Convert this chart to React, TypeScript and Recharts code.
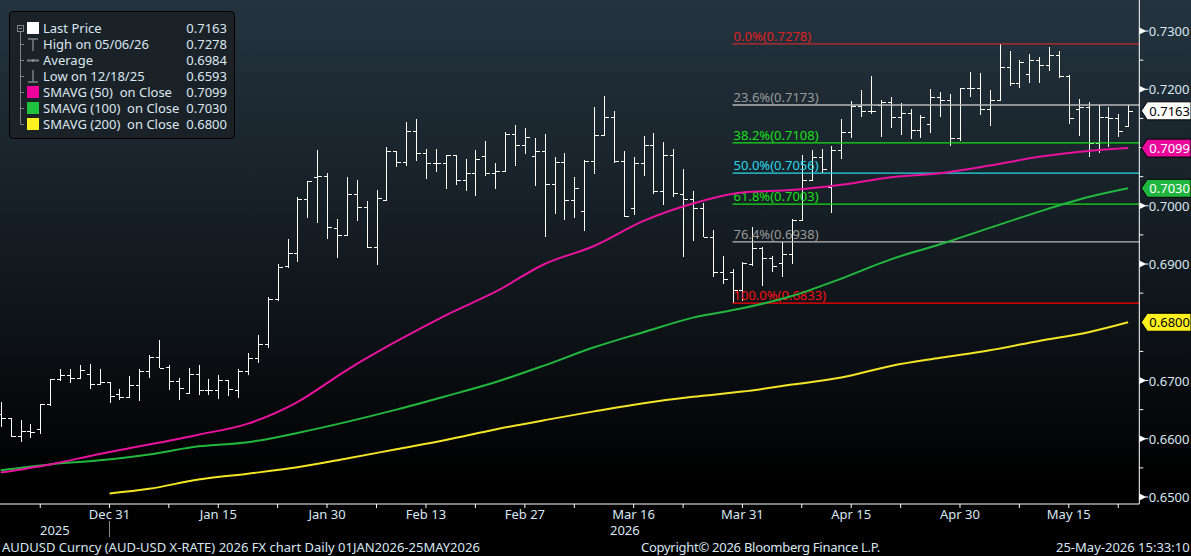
import { ComposedChart, Bar, Line, XAxis, YAxis, ReferenceLine } from 'recharts'

const FONT = '"Noto Sans", sans-serif'
const TEXT = '#d9e7f2'

const highs = [
  0.6663, 0.6636, 0.6633, 0.6626, 0.6659, 0.6703, 0.6719, 0.672, 0.6726, 0.6729,
  0.6719, 0.6697, 0.6686, 0.6708, 0.672, 0.6743, 0.6769, 0.6726, 0.6704, 0.6722,
  0.6727, 0.6703, 0.671, 0.6701, 0.6719, 0.6748, 0.6779, 0.6844, 0.69, 0.6943,
  0.7015, 0.7042, 0.7096, 0.7056, 0.6977, 0.705, 0.7044, 0.7008, 0.7027, 0.7101,
  0.7094, 0.7143, 0.7149, 0.7097, 0.7097, 0.7088, 0.7088, 0.7081, 0.7096, 0.7112,
  0.7074, 0.7126, 0.7139, 0.7133, 0.7117, 0.7124, 0.7083, 0.709, 0.7049, 0.7079,
  0.7169, 0.7188, 0.7163, 0.7094, 0.7083, 0.712, 0.7125, 0.7109, 0.7097, 0.7063,
  0.7025, 0.7005, 0.6958, 0.6913, 0.6891, 0.6904, 0.6963, 0.6929, 0.6914, 0.6938,
  0.6978, 0.7087, 0.7096, 0.7098, 0.7102, 0.7149, 0.718, 0.7199, 0.7223, 0.7181,
  0.7187, 0.7176, 0.7167, 0.7156, 0.72, 0.7196, 0.7192, 0.7203, 0.723, 0.7228,
  0.7199, 0.7278, 0.7266, 0.725, 0.726, 0.7255, 0.7272, 0.7266, 0.7224, 0.7184,
  0.7179, 0.7173, 0.7169, 0.7157, 0.7173,
]
const lows = [
  0.662, 0.6603, 0.6594, 0.6601, 0.6609, 0.6657, 0.67, 0.6696, 0.6702, 0.6686,
  0.6692, 0.6661, 0.6667, 0.667, 0.6665, 0.6704, 0.6722, 0.6684, 0.6666, 0.6679,
  0.6675, 0.6675, 0.6668, 0.6673, 0.667, 0.671, 0.673, 0.6756, 0.6837, 0.6893,
  0.6904, 0.6979, 0.6971, 0.6943, 0.691, 0.6948, 0.6974, 0.6928, 0.6898, 0.7009,
  0.7066, 0.7069, 0.7077, 0.7046, 0.7058, 0.7029, 0.7035, 0.7026, 0.7017, 0.7051,
  0.7029, 0.7059, 0.7069, 0.7089, 0.7034, 0.6947, 0.6986, 0.6975, 0.6979, 0.6957,
  0.7054, 0.7121, 0.7074, 0.6981, 0.6984, 0.7051, 0.702, 0.7001, 0.7015, 0.6912,
  0.694, 0.6947, 0.6878, 0.6865, 0.6833, 0.6837, 0.6897, 0.6862, 0.6886, 0.6878,
  0.69, 0.6975, 0.7044, 0.7057, 0.6988, 0.708, 0.7117, 0.7153, 0.7157, 0.7118,
  0.7133, 0.7121, 0.7114, 0.7117, 0.7125, 0.7153, 0.7102, 0.7112, 0.7186, 0.7156,
  0.7137, 0.7181, 0.7206, 0.7202, 0.7211, 0.7211, 0.7232, 0.7219, 0.7141, 0.712,
  0.7083, 0.709, 0.7101, 0.7118, 0.7136,
]
const opens = [
  0.6643, 0.6635, 0.6605, 0.6613, 0.6617, 0.6659, 0.6703, 0.671, 0.6705, 0.6712,
  0.6694, 0.6697, 0.6676, 0.6671, 0.6692, 0.6716, 0.674, 0.6724, 0.67, 0.6679,
  0.6712, 0.6683, 0.6683, 0.6701, 0.6683, 0.6716, 0.6738, 0.6763, 0.684, 0.6896,
  0.6919, 0.7011, 0.705, 0.7051, 0.6962, 0.6949, 0.7021, 0.6998, 0.6929, 0.701,
  0.7094, 0.7075, 0.7128, 0.709, 0.7073, 0.7073, 0.7087, 0.7044, 0.7057, 0.7086,
  0.7057, 0.706, 0.7124, 0.7105, 0.7086, 0.7094, 0.7037, 0.7076, 0.701, 0.6991,
  0.7077, 0.7121, 0.7152, 0.7077, 0.6997, 0.7073, 0.7105, 0.7025, 0.7088, 0.702,
  0.7011, 0.6997, 0.6947, 0.6886, 0.6886, 0.6855, 0.69, 0.6928, 0.6911, 0.6901,
  0.6918, 0.6975, 0.7045, 0.7084, 0.7033, 0.7096, 0.7126, 0.7171, 0.7163, 0.7173,
  0.7179, 0.7152, 0.716, 0.713, 0.7141, 0.7186, 0.7181, 0.7117, 0.7202, 0.7203,
  0.7167, 0.7181, 0.7238, 0.721, 0.7226, 0.725, 0.7242, 0.7259, 0.7222, 0.7166,
  0.7169, 0.7107, 0.7152, 0.715, 0.7137,
]
const closes = [
  0.6635, 0.6605, 0.6613, 0.6612, 0.6659, 0.6703, 0.671, 0.6705, 0.6718, 0.6694,
  0.6697, 0.6673, 0.6671, 0.6692, 0.6716, 0.674, 0.6722, 0.67, 0.6688, 0.6712,
  0.6683, 0.6683, 0.6701, 0.6685, 0.6716, 0.6738, 0.6763, 0.684, 0.6895, 0.6919,
  0.7011, 0.7042, 0.7051, 0.6964, 0.6949, 0.7021, 0.6998, 0.6929, 0.7014, 0.7094,
  0.7075, 0.7128, 0.709, 0.7074, 0.7073, 0.7087, 0.7044, 0.7057, 0.7081, 0.7057,
  0.706, 0.7124, 0.7105, 0.7118, 0.7094, 0.7037, 0.7076, 0.701, 0.7031, 0.7077,
  0.7121, 0.7152, 0.7077, 0.6982, 0.7073, 0.7105, 0.7025, 0.7088, 0.7022, 0.7011,
  0.6997, 0.6947, 0.6886, 0.6875, 0.6855, 0.6901, 0.6928, 0.6911, 0.6896, 0.6918,
  0.6975, 0.7045, 0.7084, 0.7064, 0.7096, 0.7126, 0.7171, 0.7163, 0.7163, 0.7179,
  0.7152, 0.716, 0.713, 0.7152, 0.7186, 0.7181, 0.7117, 0.7202, 0.7203, 0.7167,
  0.7181, 0.7238, 0.721, 0.7247, 0.725, 0.7242, 0.7259, 0.7222, 0.715, 0.7169,
  0.7107, 0.7152, 0.715, 0.7129, 0.7163,
]

// moving averages every 5th session, plus the last one
const smaSessions = [0, 5, 10, 15, 20, 25, 30, 35, 40, 45, 50, 55, 60, 65, 70, 75, 80, 85, 90, 95, 100, 105, 110, 114]
const sma50 = [
  0.6542, 0.6556, 0.6574, 0.659, 0.6607, 0.6626, 0.6663, 0.6718, 0.6767, 0.6812, 0.6852, 0.69,
  0.6931, 0.6974, 0.7004, 0.7023, 0.7027, 0.7036, 0.7049, 0.7056, 0.7069, 0.7084, 0.7094, 0.7099,
]
const sma100 = [
  0.6546, 0.6556, 0.6563, 0.6573, 0.6587, 0.6594, 0.661, 0.6629, 0.665, 0.6673, 0.6697, 0.6726,
  0.6757, 0.6783, 0.6808, 0.6824, 0.6845, 0.6875, 0.6908, 0.6934, 0.6962, 0.699, 0.7015, 0.703,
]
const sma200Sessions = [11, 15, 20, 25, 30, 35, 40, 45, 50, 55, 60, 65, 70, 75, 80, 85, 90, 95, 100, 105, 110, 114]
const sma200 = [
  0.6506, 0.6514, 0.653, 0.654, 0.6551, 0.6566, 0.6582, 0.6598, 0.6616, 0.6632, 0.6647,
  0.6661, 0.6672, 0.6681, 0.6693, 0.6705, 0.6725, 0.6739, 0.6752, 0.6768, 0.6783, 0.68,
]

const labelledSessions = [11, 22, 33, 43, 53, 64, 75, 86, 97, 108]
const dateLabels = ['Dec 31', 'Jan 15', 'Jan 30', 'Feb 13', 'Feb 27', 'Mar 16', 'Mar 31', 'Apr 15', 'Apr 30', 'May 15']
const minorSessions = [4, 17, 28, 38, 48, 58, 69, 81, 91, 103, 113]

const priceTicks = [0.65, 0.66, 0.67, 0.69, 0.7, 0.72, 0.73]
const minorPriceTicks = [0.655, 0.665, 0.675, 0.68, 0.685, 0.695, 0.705, 0.71, 0.715, 0.725]
const tagValues = [0.7163, 0.7099, 0.703, 0.68]
const tagFills = ['#ffffff', '#e8099c', '#20b53e', '#fff01f']
const tagTexts = ['#000000', '#ffffff', '#ffffff', '#000000']

const fibValues = [0.7278, 0.7173, 0.7108, 0.7056, 0.7003, 0.6938, 0.6833]
const fibLabels = ['0.0%(0.7278)', '23.6%(0.7173)', '38.2%(0.7108)', '50.0%(0.7056)', '61.8%(0.7003)', '76.4%(0.6938)', '100.0%(0.6833)']
const fibLines = ['#c42a2f', '#b8b8b8', '#17e017', '#2ad8ea', '#17e017', '#b8b8b8', '#ff0000']
const fibText = ['#e02020', '#9a9a9a', '#17e017', '#2ad8ea', '#17e017', '#9a9a9a', '#ff1010']

const legendLabels = ['Last Price', 'High on 05/06/26', 'Average', 'Low on 12/18/25', 'SMAVG (50)  on Close', 'SMAVG (100)  on Close', 'SMAVG (200)  on Close']
const legendValues = ['0.7163', '0.7278', '0.6984', '0.6593', '0.7099', '0.7030', '0.6800']
const legendSwatches = ['#ffffff', null, null, null, '#ef009b', '#1fc23e', '#fff01f']

const data = highs.map((high, i) => ({
  session: i,
  high,
  low: lows[i],
  open: opens[i],
  close: closes[i],
  sma50: smaSessions.includes(i) ? sma50[smaSessions.indexOf(i)] : null,
  sma100: smaSessions.includes(i) ? sma100[smaSessions.indexOf(i)] : null,
  sma200: sma200Sessions.includes(i) ? sma200[sma200Sessions.indexOf(i)] : null,
}))

function OhlcBar(props: any) {
  const { x, y, width, height, payload } = props
  const range = payload.high - payload.low
  const at = (v: number) => Math.round(y + ((payload.high - v) / range) * height) + 0.5
  const cx = Math.round(x + width / 2) + 0.5
  return (
    <g stroke="#ffffff" strokeWidth={1} shapeRendering="crispEdges">
      <line x1={cx} x2={cx} y1={y} y2={y + height} />
      <line x1={cx - 4} x2={cx} y1={at(payload.open)} y2={at(payload.open)} />
      <line x1={cx} x2={cx + 4} y1={at(payload.close)} y2={at(payload.close)} />
    </g>
  )
}

function PriceTick(props: any) {
  const { x, y, payload } = props
  const value = payload.value
  // the axis hands x past its default tick gap, take it back to the axis line
  const ax = x - 8
  const tag = tagValues.indexOf(value)
  if (tag >= 0) {
    const fill = tagFills[tag]
    return (
      <g>
        <path
          d={`M${ax + 2} ${y} L${ax + 8} ${y - 9} H1191 V${y + 9} H${ax + 8} Z`}
          fill={fill}
          stroke="#000"
        />
        <text x={ax + 10} y={y + 5} fontSize={13} fontFamily={FONT} fill={tagTexts[tag]}>
          {value.toFixed(4)}
        </text>
      </g>
    )
  }
  if (minorPriceTicks.includes(value)) {
    return <line x1={ax} x2={ax + 4} y1={y} y2={y} stroke="#fff" />
  }
  return (
    <g>
      <path d={`M${ax} ${y - 3.5} L${ax + 7} ${y} L${ax} ${y + 3.5} Z`} fill="#fff" />
      <line x1={ax + 6} x2={ax + 9} y1={y} y2={y} stroke="#fff" />
      <text x={ax + 9.5} y={y + 5} fontSize={13} fontFamily={FONT} fill={TEXT}>
        {value.toFixed(4)}
      </text>
    </g>
  )
}

function FibLabel(props: any) {
  const { viewBox, text, fill } = props
  return (
    <text x={viewBox.x + 1} y={viewBox.y - 3} fontSize={13} fontFamily={FONT} fill={fill}>
      {text}
    </text>
  )
}

function LegendIcon({ row }: { row: number }) {
  const gray = '#7d8488'
  return (
    <svg width={40} height={16} style={{ position: 'absolute', left: 0, top: 0 }}>
      <line x1={20.5} x2={20.5} y1={row === 0 ? 10 : 0} y2={row === 6 ? 8 : 16} stroke={gray} />
      <line x1={20.5} x2={24} y1={8.5} y2={8.5} stroke={gray} />
      {row === 0 && <rect x={17.5} y={5.5} width={6} height={6} fill="#1c2328" stroke={gray} />}
      {row === 0 && <line x1={19} x2={22} y1={8.5} y2={8.5} stroke={gray} />}
      {row === 1 && <path d="M28 3H38M33 3V15" stroke={gray} strokeWidth={1.4} fill="none" />}
      {row === 2 && <path d="M27 8.5H39M33 7V10" stroke={gray} strokeWidth={2} fill="none" />}
      {row === 3 && <path d="M28 14H38M33 2V14" stroke={gray} strokeWidth={1.4} fill="none" />}
      {legendSwatches[row] && <rect x={27} y={2} width={12} height={12} fill={legendSwatches[row] as string} />}
    </svg>
  )
}

function Note({ x, y, spacing, children }: { x: number; y: number; spacing?: number; children: any }) {
  return (
    <div
      style={{
        position: 'absolute', left: x, top: y, fontFamily: FONT, fontSize: 13,
        lineHeight: '16px', color: TEXT, whiteSpace: 'pre', letterSpacing: spacing,
      }}
    >
      {children}
    </div>
  )
}

export default function App() {
  return (
    <div
      style={{
        position: 'absolute', left: 0, top: 0, width: 1191, height: 556, overflow: 'hidden',
        background: 'linear-gradient(180deg, #24343f 0px, #141c22 240px, #0b0f13 360px, #000000 480px)',
      }}
    >
      <ComposedChart
        width={1191}
        height={556}
        data={data}
        margin={{ top: 0, right: 0, bottom: 0, left: 0 }}
      >
        <XAxis
          dataKey="session"
          type="number"
          domain={[-0.07, 115.13]}
          ticks={[...labelledSessions, ...minorSessions].sort((a, b) => a - b)}
          interval={0}
          height={52}
          stroke="#ffffff"
          tickSize={4}
          tick={{ fill: TEXT, fontSize: 13, fontFamily: FONT }}
          tickFormatter={(v: number) => {
            const k = labelledSessions.indexOf(v)
            return k >= 0 ? dateLabels[k] : ''
          }}
        />
        <YAxis
          type="number"
          orientation="right"
          domain={[0.6488, 0.73533]}
          ticks={[...priceTicks, ...minorPriceTicks, ...tagValues]}
          interval={0}
          width={51.7}
          stroke="#ffffff"
          tickLine={false}
          tick={<PriceTick />}
          allowDataOverflow
        />
        <Bar
          dataKey={(d: any) => [d.low, d.high]}
          shape={<OhlcBar />}
          barSize={8}
          isAnimationActive={false}
        />
        {fibValues.map((v, i) => (
          <ReferenceLine
            key={v}
            segment={[{ x: 74, y: v }, { x: 115.13, y: v }]}
            stroke={fibLines[i]}
            strokeWidth={1.3}
            label={<FibLabel text={fibLabels[i]} fill={fibText[i]} />}
          />
        ))}
        <Line dataKey="sma200" stroke="#f4e526" strokeWidth={2} dot={false} activeDot={false} connectNulls type="monotone" isAnimationActive={false} />
        <Line dataKey="sma100" stroke="#22b83f" strokeWidth={2} dot={false} activeDot={false} connectNulls type="monotone" isAnimationActive={false} />
        <Line dataKey="sma50" stroke="#e8129e" strokeWidth={2} dot={false} activeDot={false} connectNulls type="monotone" isAnimationActive={false} />
      </ComposedChart>

      <div
        style={{
          position: 'absolute', left: 9, top: 11, width: 224, height: 126, boxSizing: 'content-box',
          background: '#1b2227', border: '1px solid #000', borderRadius: 4,
        }}
      />
      {legendLabels.map((label, i) => (
        <div key={label} style={{ position: 'absolute', left: 0, top: 20 + i * 16, width: 235, height: 16 }}>
          <LegendIcon row={i} />
          <Note x={43} y={0}>{label}</Note>
          <div
            style={{
              position: 'absolute', right: 8, top: 0, fontFamily: FONT, fontSize: 13,
              lineHeight: '16px', color: TEXT,
            }}
          >
            {legendValues[i]}
          </div>
        </div>
      ))}

      <Note x={40} y={522}>2025</Note>
      <div style={{ position: 'absolute', left: 109, top: 521, width: 1, height: 16, background: '#8a8a8a' }} />
      <Note x={610} y={522}>2026</Note>
      <Note x={2} y={539}>AUDUSD Curncy (AUD-USD X-RATE) 2026 FX chart Daily 01JAN2026-25MAY2026</Note>
      <Note x={641} y={539} spacing={-0.27}>Copyright© 2026 Bloomberg Finance L.P.</Note>
      <Note x={1056} y={539}>25-May-2026 15:33:10</Note>
    </div>
  )
}
